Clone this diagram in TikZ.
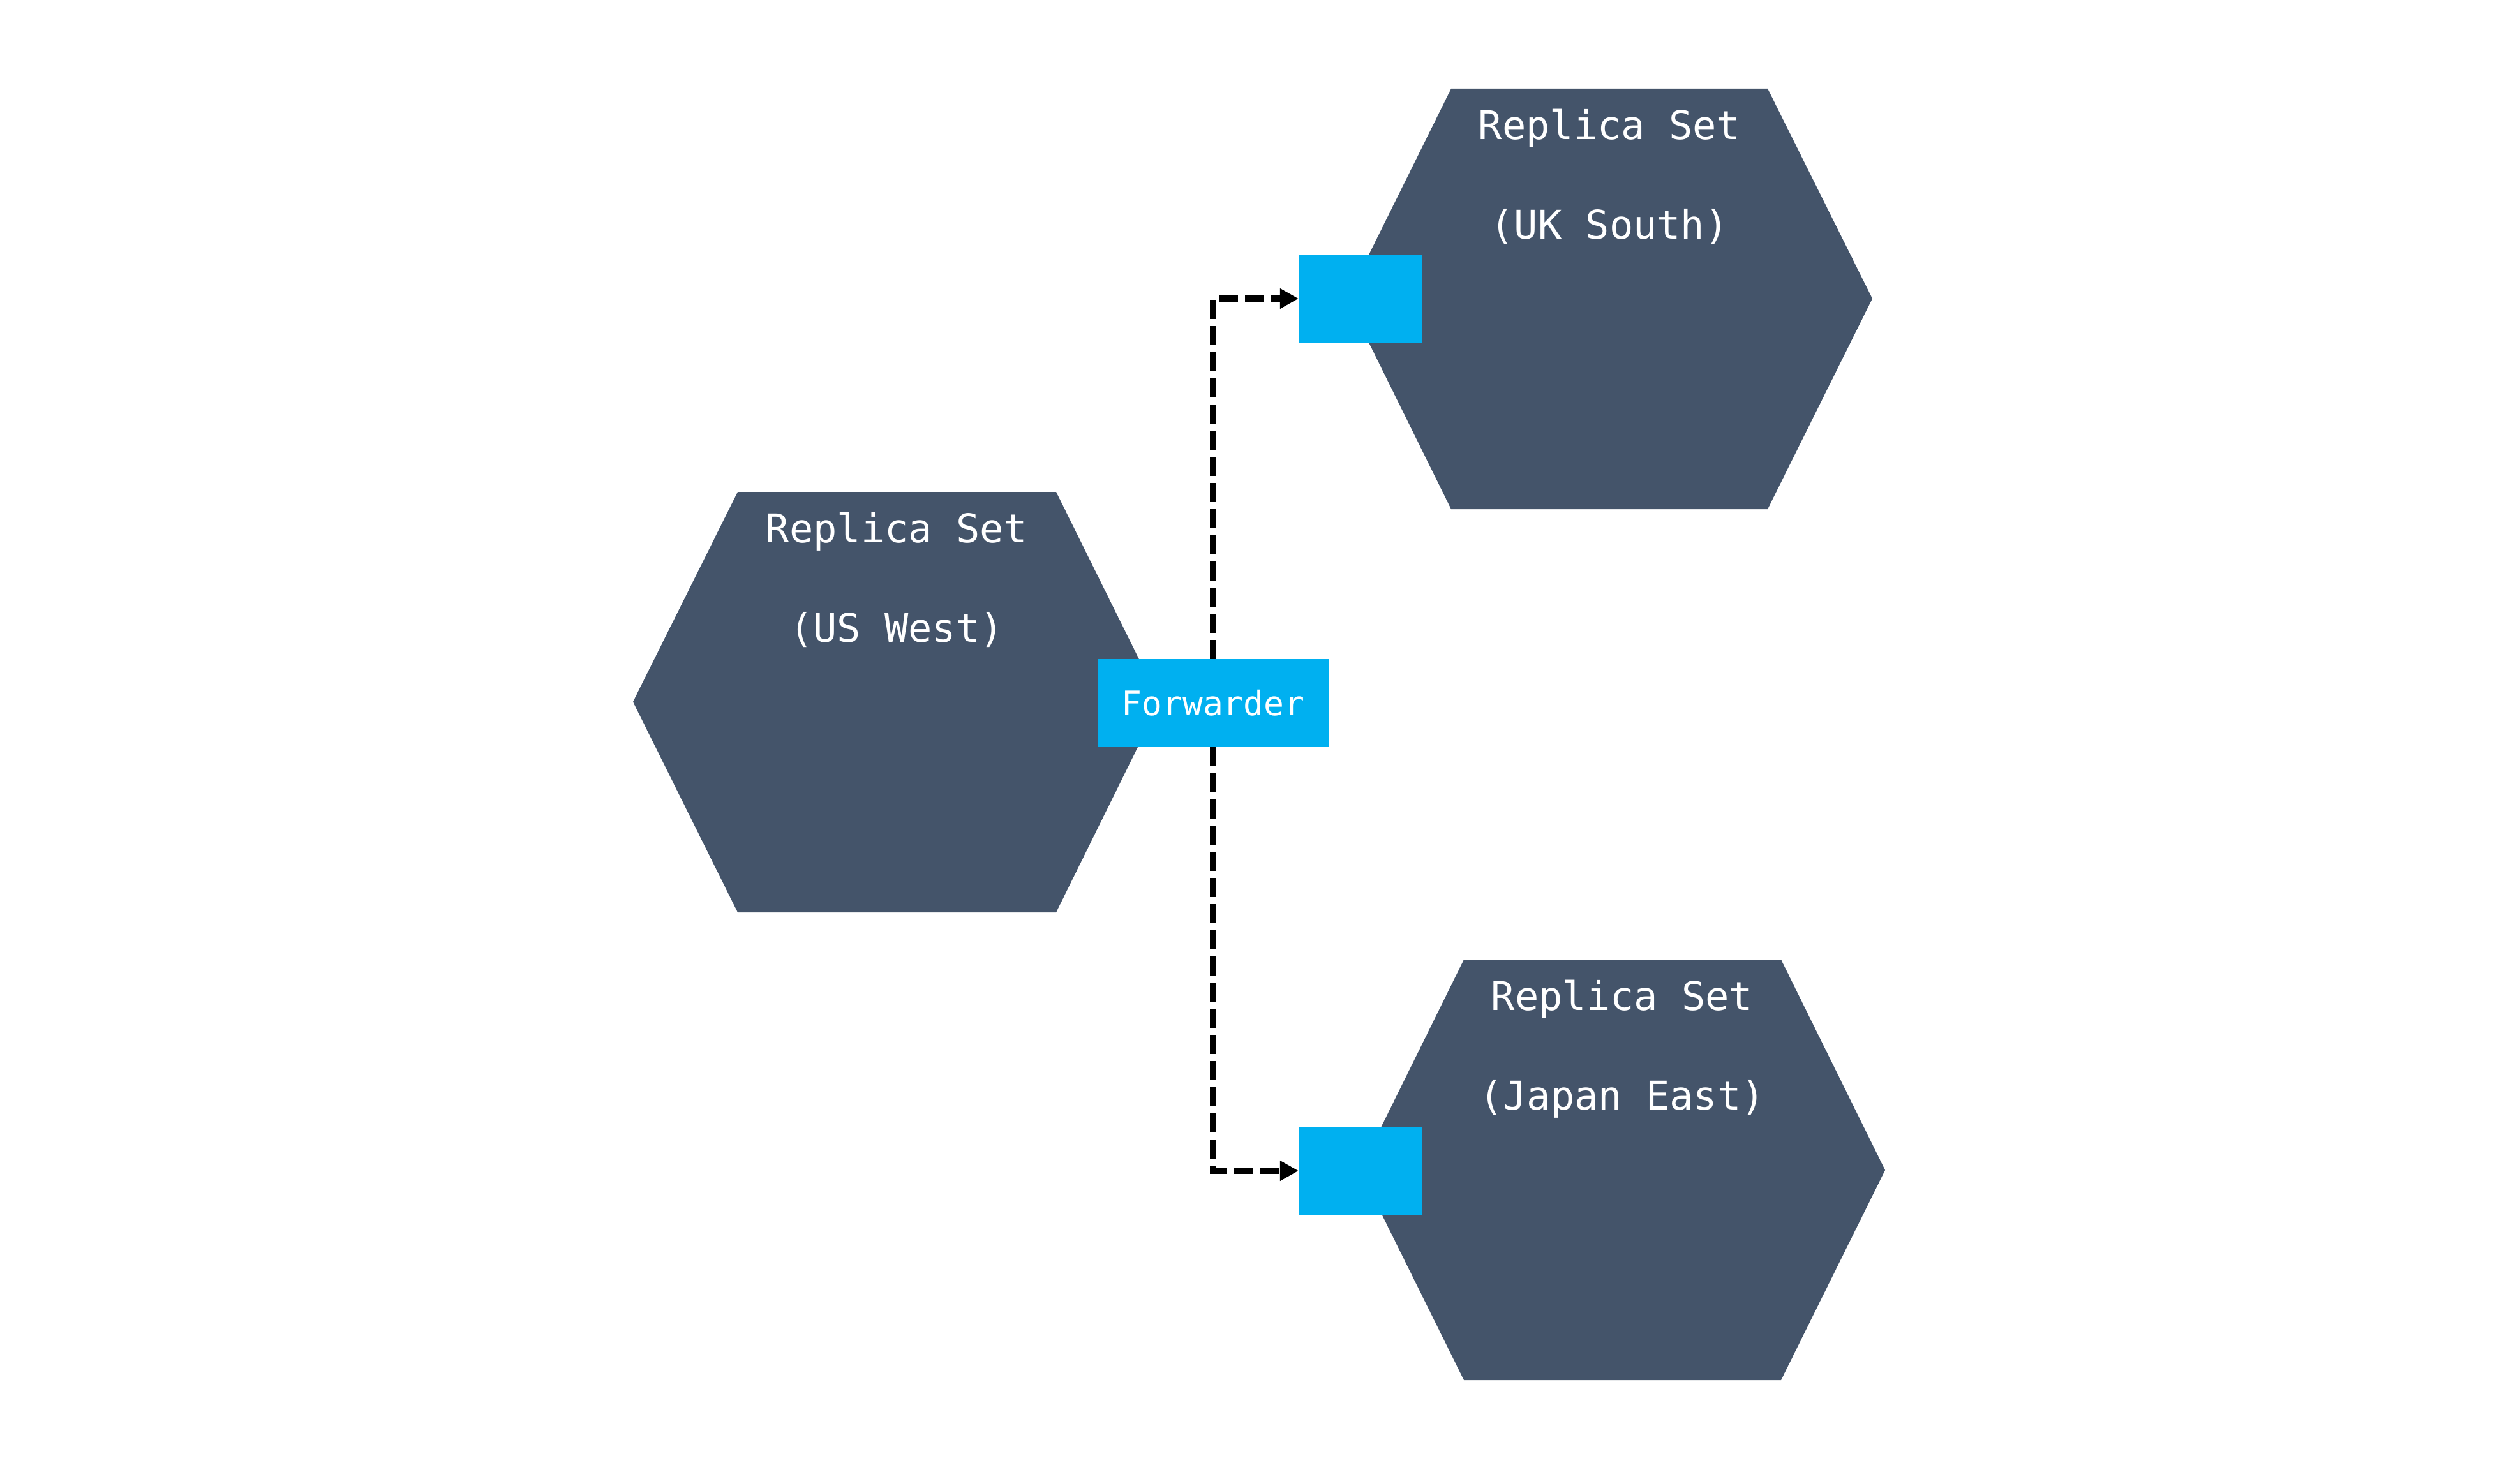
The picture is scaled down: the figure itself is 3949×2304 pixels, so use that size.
\documentclass[tikz,border=0pt]{standalone}
\usepackage{fontspec}
\newfontfamily\monofam{DejaVu Sans Mono}
\usetikzlibrary{arrows.meta}
\definecolor{hexfill}{HTML}{44546A}
\definecolor{portblue}{HTML}{00B0F0}
\begin{document}
\begin{tikzpicture}[x=1pt,y=-1pt,
  hexa/.style={fill=hexfill},
  hextext/.style={text=white,font=\monofam\fontsize{62}{74}\selectfont,anchor=base,inner sep=0pt},
  portbox/.style={fill=portblue,minimum width=194pt,minimum height=137pt,inner sep=0pt},
  fwdbox/.style={fill=portblue,minimum width=363pt,minimum height=138pt,inner sep=0pt,text=white,font=\monofam\fontsize{53}{64}\selectfont},
  link/.style={draw=black,line width=10pt,dash pattern=on 30pt off 11pt,-{Triangle[length=29pt,width=30pt]}}]
\useasboundingbox (0,0) rectangle (3949,2304);
% hexagons
\fill[hexa] (1156,771) -- (1655,771) -- (1818,1100) -- (1655,1430) -- (1156,1430) -- (992,1100) -- cycle;
\fill[hexa] (2274,139) -- (2770,139) -- (2934,468) -- (2770,798) -- (2274,798) -- (2111,468) -- cycle;
\fill[hexa] (2294,1504) -- (2791,1504) -- (2954,1834) -- (2791,2163) -- (2294,2163) -- (2131,1834) -- cycle;
% texts
\node[hextext] (usA) at (1405,850) {Replica Set};
\node[hextext] (usB) at (1405,1006) {(US West)};
\node[hextext] (ukA) at (2522,218) {Replica Set};
\node[hextext] (ukB) at (2522,374) {(UK South)};
\node[hextext] (jpA) at (2542,1583) {Replica Set};
\node[hextext] (jpB) at (2542,1739) {(Japan East)};
% boxes
\node[portbox] (ukport) at (2132,468) {};
\node[portbox] (jpport) at (2132,1835) {};
\node[fwdbox] (fwd) at (1901,1102) {Forwarder};
% connectors
\draw[link] (fwd.north) |- (ukport.west);
\draw[link] (fwd.south) |- (jpport.west);
\end{tikzpicture}
\end{document}
